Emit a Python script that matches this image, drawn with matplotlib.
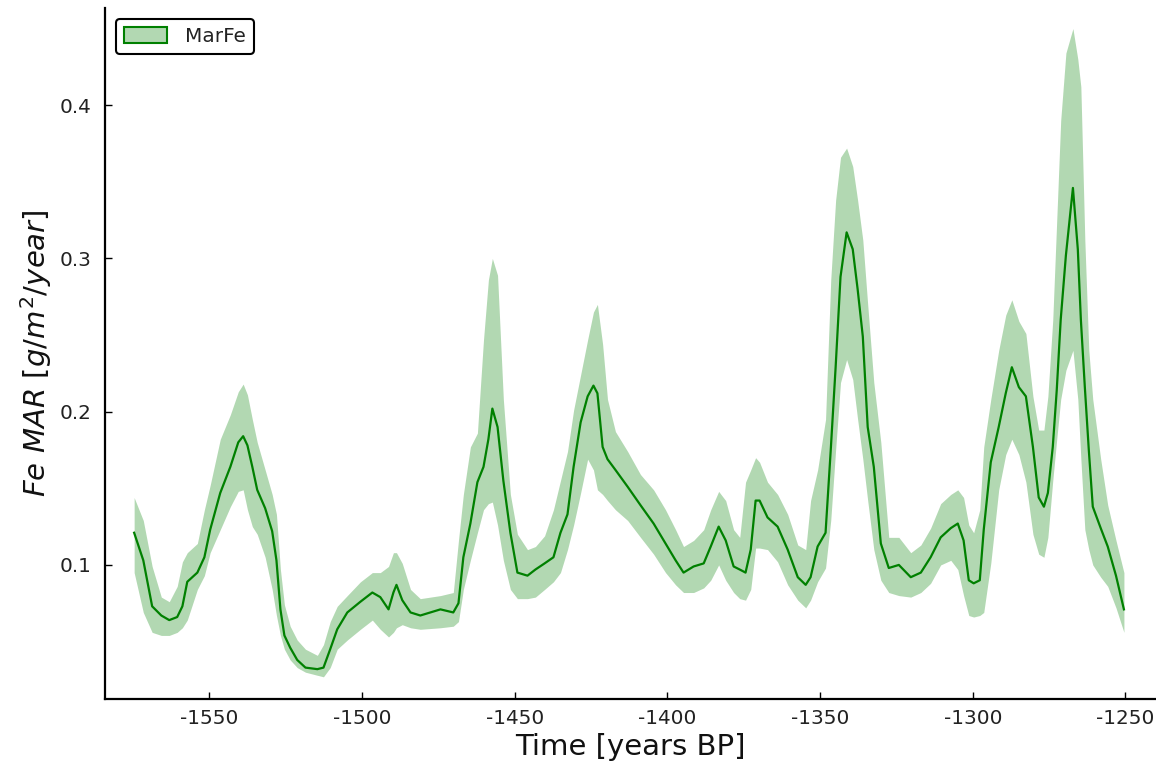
import matplotlib
matplotlib.use("Agg")
import matplotlib.pyplot as plt
from matplotlib.patches import Patch

plt.rcParams["axes.unicode_minus"] = False

# Fe mass accumulation rate: mean and ribbon bounds
years = [
    -1574.6, -1571.6, -1568.7, -1565.7, -1563.1, -1560.5, -1558.8, -1557.2,
    -1553.9, -1551.6, -1549.7, -1546.4, -1543.1, -1540.5, -1538.9, -1537.5,
    -1535.9, -1534.3, -1531.7, -1529.4, -1528.0, -1526.7, -1525.4, -1523.5,
    -1521.2, -1518.5, -1514.6, -1512.6, -1510.4, -1508.1, -1504.8, -1500.5,
    -1496.6, -1494.0, -1491.3, -1489.7, -1488.7, -1486.8, -1484.1, -1480.9,
    -1474.3, -1470.1, -1468.4, -1466.8, -1464.5, -1462.2, -1460.2, -1458.6,
    -1457.3, -1455.6, -1453.7, -1451.4, -1449.1, -1445.8, -1443.2, -1440.2,
    -1437.3, -1435.0, -1432.7, -1430.7, -1428.4, -1426.1, -1424.2, -1422.9,
    -1421.2, -1419.6, -1417.0, -1413.0, -1408.8, -1404.5, -1400.6, -1397.3,
    -1394.7, -1391.4, -1388.1, -1385.8, -1383.2, -1380.9, -1378.3, -1376.3,
    -1374.4, -1372.7, -1371.1, -1369.8, -1367.2, -1363.9, -1360.6, -1357.3,
    -1354.7, -1353.1, -1350.8, -1348.2, -1346.5, -1344.9, -1343.3, -1341.3,
    -1339.3, -1337.7, -1336.0, -1334.4, -1332.4, -1330.1, -1327.5, -1324.2,
    -1320.3, -1317.0, -1313.8, -1310.5, -1307.2, -1304.9, -1303.0, -1301.3,
    -1299.7, -1297.7, -1296.4, -1294.1, -1291.5, -1289.2, -1287.2, -1284.9,
    -1282.6, -1280.3, -1278.4, -1276.7, -1275.4, -1273.8, -1272.5, -1271.2,
    -1269.5, -1267.2, -1265.6, -1264.6, -1263.3, -1262.0, -1260.7, -1258.1,
    -1255.8, -1253.1, -1250.5,
]
fe_mean = [
    0.121, 0.103, 0.073, 0.067, 0.064, 0.066, 0.073, 0.089,
    0.095, 0.105, 0.123, 0.147, 0.164, 0.180, 0.184, 0.178,
    0.164, 0.149, 0.137, 0.122, 0.103, 0.071, 0.054, 0.046,
    0.038, 0.033, 0.032, 0.033, 0.045, 0.058, 0.069, 0.076,
    0.082, 0.079, 0.071, 0.082, 0.087, 0.077, 0.069, 0.067,
    0.071, 0.069, 0.075, 0.105, 0.127, 0.154, 0.164, 0.182,
    0.202, 0.190, 0.155, 0.121, 0.095, 0.093, 0.097, 0.101,
    0.105, 0.121, 0.133, 0.164, 0.193, 0.210, 0.217, 0.212,
    0.177, 0.169, 0.162, 0.151, 0.139, 0.127, 0.114, 0.103,
    0.095, 0.099, 0.101, 0.112, 0.125, 0.116, 0.099, 0.097,
    0.095, 0.110, 0.142, 0.142, 0.131, 0.125, 0.110, 0.092,
    0.087, 0.092, 0.112, 0.121, 0.175, 0.229, 0.288, 0.317,
    0.306, 0.280, 0.249, 0.190, 0.164, 0.114, 0.098, 0.100,
    0.092, 0.095, 0.105, 0.118, 0.124, 0.127, 0.116, 0.090,
    0.088, 0.090, 0.123, 0.167, 0.190, 0.212, 0.229, 0.216,
    0.210, 0.177, 0.144, 0.138, 0.147, 0.177, 0.214, 0.260,
    0.302, 0.346, 0.306, 0.260, 0.216, 0.175, 0.138, 0.124,
    0.112, 0.093, 0.071,
]
fe_upper = [
    0.144, 0.129, 0.099, 0.079, 0.076, 0.086, 0.102, 0.108,
    0.114, 0.136, 0.152, 0.182, 0.198, 0.213, 0.218, 0.211,
    0.195, 0.180, 0.162, 0.146, 0.133, 0.097, 0.074, 0.060,
    0.051, 0.045, 0.041, 0.048, 0.063, 0.073, 0.080, 0.089,
    0.095, 0.095, 0.099, 0.108, 0.108, 0.101, 0.084, 0.078,
    0.080, 0.082, 0.116, 0.146, 0.177, 0.186, 0.247, 0.286,
    0.300, 0.289, 0.208, 0.146, 0.120, 0.110, 0.112, 0.119,
    0.136, 0.155, 0.174, 0.201, 0.224, 0.247, 0.265, 0.270,
    0.244, 0.208, 0.187, 0.174, 0.159, 0.149, 0.136, 0.123,
    0.112, 0.116, 0.123, 0.136, 0.148, 0.142, 0.123, 0.118,
    0.154, 0.162, 0.170, 0.167, 0.154, 0.146, 0.133, 0.113,
    0.110, 0.142, 0.162, 0.195, 0.286, 0.338, 0.366, 0.372,
    0.360, 0.338, 0.312, 0.270, 0.219, 0.180, 0.118, 0.118,
    0.108, 0.113, 0.124, 0.140, 0.146, 0.149, 0.144, 0.126,
    0.121, 0.136, 0.177, 0.208, 0.240, 0.263, 0.273, 0.259,
    0.251, 0.210, 0.188, 0.188, 0.210, 0.260, 0.325, 0.390,
    0.434, 0.450, 0.430, 0.412, 0.312, 0.240, 0.208, 0.169,
    0.139, 0.116, 0.095,
]
fe_lower = [
    0.095, 0.069, 0.056, 0.054, 0.054, 0.056, 0.059, 0.064,
    0.084, 0.093, 0.108, 0.123, 0.138, 0.148, 0.149, 0.136,
    0.125, 0.120, 0.105, 0.084, 0.067, 0.054, 0.045, 0.038,
    0.033, 0.030, 0.028, 0.027, 0.033, 0.045, 0.051, 0.058,
    0.064, 0.058, 0.053, 0.056, 0.059, 0.061, 0.059, 0.058,
    0.059, 0.060, 0.063, 0.084, 0.103, 0.121, 0.136, 0.140,
    0.141, 0.126, 0.103, 0.084, 0.078, 0.078, 0.079, 0.084,
    0.089, 0.095, 0.110, 0.126, 0.147, 0.169, 0.162, 0.149,
    0.146, 0.142, 0.136, 0.129, 0.118, 0.107, 0.095, 0.087,
    0.082, 0.082, 0.085, 0.090, 0.100, 0.090, 0.082, 0.078,
    0.077, 0.084, 0.111, 0.111, 0.110, 0.102, 0.087, 0.077,
    0.072, 0.077, 0.089, 0.098, 0.129, 0.175, 0.219, 0.234,
    0.221, 0.195, 0.169, 0.142, 0.110, 0.090, 0.082, 0.080,
    0.079, 0.082, 0.088, 0.100, 0.103, 0.097, 0.080, 0.067,
    0.066, 0.067, 0.069, 0.101, 0.149, 0.172, 0.182, 0.172,
    0.154, 0.120, 0.107, 0.105, 0.118, 0.155, 0.182, 0.208,
    0.227, 0.240, 0.208, 0.169, 0.123, 0.110, 0.100, 0.092,
    0.086, 0.072, 0.056,
]

line_color = "#008000"

fig = plt.figure(figsize=(11.56, 7.68), dpi=100)
ax = fig.add_axes([0.0912, 0.0898, 0.908, 0.900])

ax.fill_between(years, fe_lower, fe_upper, color=line_color, alpha=0.3, linewidth=0)
ax.plot(years, fe_mean, color=line_color, linewidth=1.6, solid_joinstyle="round")

ax.set_xlim(-1584.0, -1240.3)
ax.set_ylim(0.0125, 0.4635)
ax.set_xticks([-1550, -1500, -1450, -1400, -1350, -1300, -1250])
ax.set_yticks([0.1, 0.2, 0.3, 0.4])

for side in ("top", "right"):
    ax.spines[side].set_visible(False)
for side in ("left", "bottom"):
    ax.spines[side].set_linewidth(1.6)
ax.tick_params(direction="in", length=5, width=1.0, labelsize=14.4, pad=7,
               labelcolor="#222222")
ax.tick_params(axis="y", pad=10)

ax.set_xlabel("Time [years BP]", fontsize=21, color="#111111")
ax.set_ylabel(r"$Fe\ MAR\ [g/m^2/year]$", fontsize=21, color="#111111")

legend_handle = Patch(facecolor=(0, 0.5, 0, 0.3), edgecolor=line_color, linewidth=1.5)
leg = ax.legend([legend_handle], ["MarFe"], loc="upper left", fontsize=14.4,
                handlelength=2.15, handleheight=0.8, handletextpad=0.9,
                fancybox=True, framealpha=1, edgecolor="black",
                borderaxespad=0.55)
leg.get_frame().set_linewidth(1.5)
for text in leg.get_texts():
    text.set_color("#222222")

fig.savefig("out.png", dpi=100)
